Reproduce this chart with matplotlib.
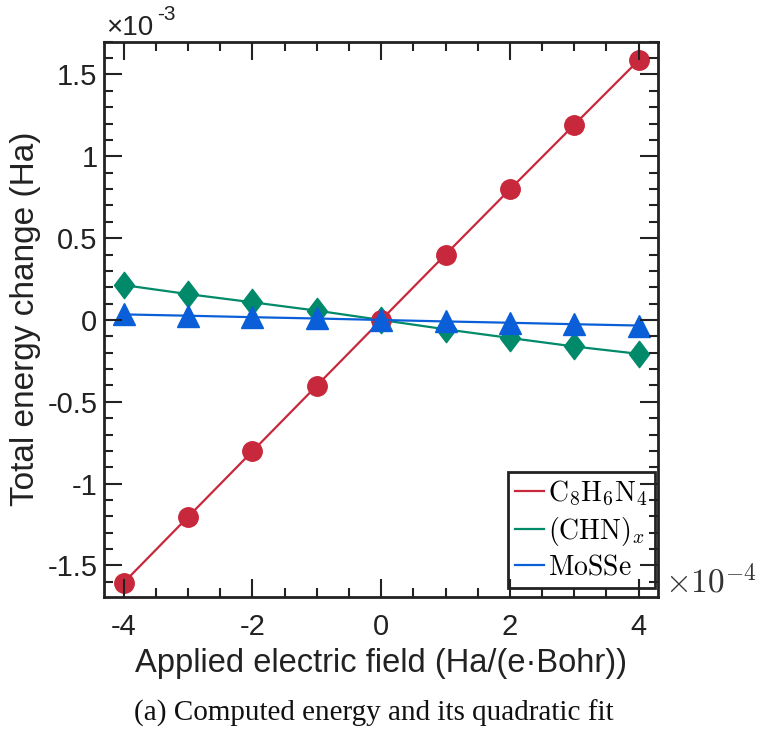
import matplotlib.pyplot as plt
from matplotlib.path import Path
from matplotlib.ticker import MultipleLocator

plt.rcParams['font.family'] = ['Liberation Sans', 'DejaVu Sans']
plt.rcParams['mathtext.fontset'] = 'cm'

# field in units of 1e-4 Ha/(e*Bohr), energy in units of 1e-3 Ha
field = [-4, -3, -2, -1, 0, 1, 2, 3, 4]
e_c8h6n4 = [-1.605, -1.203, -0.802, -0.401, 0.0, 0.400, 0.798, 1.193, 1.587]
e_chn = [0.213, 0.158, 0.108, 0.057, 0.0, -0.057, -0.110, -0.162, -0.207]
e_mosse = [0.034, 0.026, 0.017, 0.009, 0.0, -0.009, -0.017, -0.026, -0.034]

labels = [r'$\mathrm{C_8H_6N_4}$', r'$\mathrm{(CHN)}_x$', r'$\mathrm{MoSSe}$']
colors = ['#c8283c', '#008a6a', '#0a5fd8']

diamond = Path([(0, 1), (0.76, 0), (0, -1), (-0.76, 0), (0, 1)],
               [Path.MOVETO, Path.LINETO, Path.LINETO, Path.LINETO,
                Path.CLOSEPOLY])

fig = plt.figure(figsize=(7.62, 7.32), dpi=100)
ax = fig.add_axes([0.137, 0.185, 0.7265, 0.758])

ax.plot(field, e_chn, color=colors[1], lw=1.6, marker=diamond, ms=19,
        label=labels[1], zorder=2)
ax.plot(field, e_c8h6n4, color=colors[0], lw=1.6, marker='o', ms=14,
        label=labels[0], zorder=2.1)
ax.plot(field, e_mosse, color=colors[2], lw=1.6, marker='^', ms=16,
        label=labels[2], zorder=2.2)

ax.set_xlim(-4.3, 4.3)
ax.set_ylim(-1.69, 1.7)
ax.xaxis.set_major_locator(MultipleLocator(2))
ax.xaxis.set_minor_locator(MultipleLocator(0.5))
ax.yaxis.set_major_locator(MultipleLocator(0.5))
ax.yaxis.set_minor_locator(MultipleLocator(0.1))
ax.xaxis.set_major_formatter(lambda v, p: f'{v:g}')
ax.yaxis.set_major_formatter(lambda v, p: f'{v:g}')
ax.set_axisbelow(False)

ax.tick_params(which='both', direction='in', top=True, right=True,
               width=1.5, colors='#222222', labelcolor='#222222')
ax.tick_params(which='major', length=13, labelsize=21)
ax.tick_params(axis='x', which='major', pad=12)
ax.tick_params(axis='y', which='major', pad=5)
ax.tick_params(which='minor', length=6.5)
for s in ax.spines.values():
    s.set_linewidth(2)
    s.set_color('#222222')

ax.set_xlabel('Applied electric field (Ha/(e·Bohr))', fontsize=23.5,
              color='#222222', labelpad=5)
ax.set_ylabel('Total energy change (Ha)', fontsize=24, color='#222222',
              labelpad=5)

# axis multipliers
ax.text(0.003, 1.012, '×10', transform=ax.transAxes, fontsize=20,
        color='#222222', ha='left', va='baseline')
ax.text(0.0957, 1.039, '-3', transform=ax.transAxes, fontsize=15,
        color='#222222', ha='left', va='baseline')
ax.text(1.012, 0.025, r'$\times10^{-4}$', transform=ax.transAxes,
        fontsize=24, color='#333333', ha='left', va='center')

leg = ax.legend([plt.Line2D([], [], color=colors[i], lw=1.6) for i in range(3)],
                labels, loc='lower right', bbox_to_anchor=(0.9946, 0.0157),
                fontsize=20, frameon=True, fancybox=False, framealpha=1,
                edgecolor='#222222', handlelength=1.05, handletextpad=0.15,
                labelspacing=0.25, borderpad=0.25, borderaxespad=0.0)
leg.get_frame().set_linewidth(2)
leg.set_zorder(2.4)  # keep axis ticks drawn over the legend box

fig.text(0.49, 0.025, '(a) Computed energy and its quadratic fit',
         family='Liberation Serif', fontsize=21, ha='center', va='center',
         color='#111111')

fig.savefig('out.png', dpi=100)
